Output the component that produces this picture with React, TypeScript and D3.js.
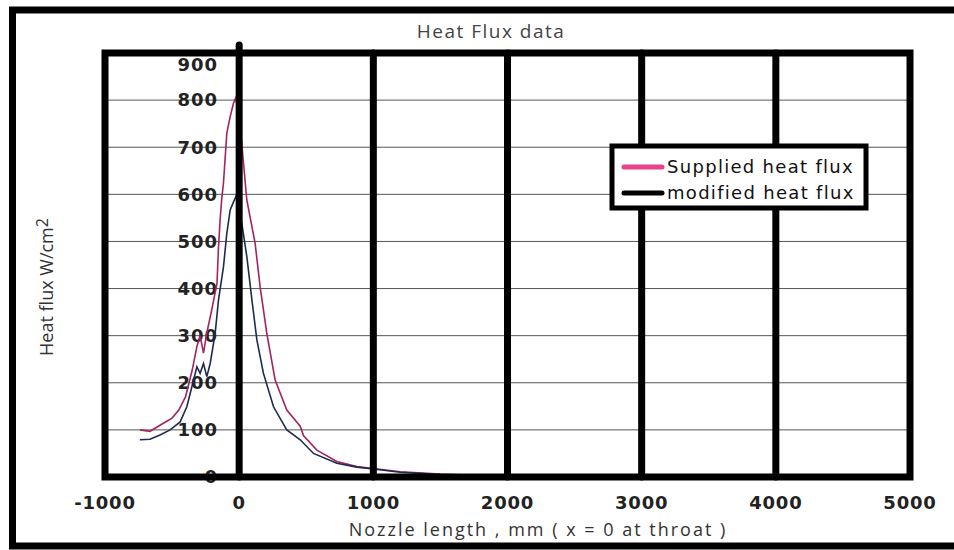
import * as d3 from 'd3';

// Nozzle position (mm, x = 0 at throat) and heat flux (W/cm2)
const suppliedX = [-740, -665, -565, -500, -450, -400, -350, -315, -291, -266, -241, -205, -165, -155, -142, -130, -117, -92, -67, -42, -25, -5, 20, 57, 119, 156, 206, 268, 355, 455, 465, 479, 579, 728, 877, 1000, 1200, 1500, 1800, 2100];
const suppliedY = [100, 97, 114, 125, 142, 170, 227, 277, 300, 263, 306, 354, 412, 482, 546, 590, 624, 730, 765, 794, 805, 770, 705, 588, 496, 404, 305, 206, 142, 108, 100, 88, 57, 33, 22, 18, 11, 6, 3, 2];

const modifiedX = [-740, -665, -590, -515, -440, -390, -352, -315, -291, -266, -241, -216, -179, -154, -117, -92, -67, -42, -20, 0, 20, 57, 95, 132, 181, 256, 355, 455, 554, 728, 877, 1000, 1200, 1500, 1800, 2100];
const modifiedY = [79, 80, 89, 100, 117, 149, 192, 234, 220, 241, 213, 241, 305, 376, 446, 517, 567, 584, 598, 560, 538, 468, 376, 291, 220, 149, 100, 79, 50, 29, 21, 17, 10, 5, 3, 2];

const xTicks = [-1000, 0, 1000, 2000, 3000, 4000, 5000];
const yTicks = [0, 100, 200, 300, 400, 500, 600, 700, 800, 900];

const legendItems = [
  { label: 'Supplied heat flux', color: '#e8428c' },
  { label: 'modified heat flux', color: '#000000' },
];

const W = 954;
const H = 550;
const plot = { left: 105, right: 910, top: 53, bottom: 477 };

export default function App() {
  const x = d3.scaleLinear().domain([-1000, 5000]).range([plot.left, plot.right]);
  const y = d3.scaleLinear().domain([0, 900]).range([plot.bottom, plot.top]);

  const line = d3.line<[number, number]>()
    .x((d) => x(d[0]))
    .y((d) => y(d[1]));

  const supplied = suppliedX.map((v, i) => [v, suppliedY[i]] as [number, number]);
  const modified = modifiedX.map((v, i) => [v, modifiedY[i]] as [number, number]);

  const tickFont = '"DejaVu Sans", Verdana, sans-serif';
  const titleFont = '"Open Sans", Calibri, sans-serif';

  return (
    <svg width={W} height={H} style={{ position: 'absolute', left: 0, top: 0, background: '#fff' }}>
      <rect x={0} y={0} width={W} height={H} fill="#fff" />

      {/* outer frame */}
      <rect x={12.5} y={10} width={1000} height={536} fill="none" stroke="#000" strokeWidth={7} />

      <text x={491} y={31} textAnchor="middle" dy="0.35em" fontFamily={titleFont} fontSize={19}
        letterSpacing={1.5} fill="#444">Heat Flux data</text>

      {/* horizontal grid */}
      {yTicks.map((t) => (
        <line key={'g' + t} x1={plot.left} x2={plot.right} y1={y(t)} y2={y(t)} stroke="#555" strokeWidth={1} />
      ))}

      {/* y tick labels, sitting inside the plot */}
      {yTicks.map((t) => (
        <text key={'yl' + t} x={218} y={Math.max(y(t), plot.top + 12)} dy="0.35em" textAnchor="end"
          fontFamily={tickFont} fontWeight="bold" fontSize={18} letterSpacing={1} fill="#222">{t}</text>
      ))}

      {/* series */}
      <path d={line(supplied) ?? ''} fill="none" stroke="#a3245e" strokeWidth={1.6} />
      <path d={line(modified) ?? ''} fill="none" stroke="#1c2b4f" strokeWidth={1.6} />

      {/* thick vertical grid */}
      {xTicks.slice(1, -1).map((t) => (
        <line key={'v' + t} x1={x(t)} x2={x(t)} y1={t === 0 ? plot.top - 8 : plot.top}
          y2={plot.bottom} stroke="#000" strokeWidth={7} strokeLinecap="round" />
      ))}

      {/* plot frame */}
      <rect x={plot.left} y={plot.top} width={plot.right - plot.left} height={plot.bottom - plot.top}
        fill="none" stroke="#000" strokeWidth={7} />

      {/* x tick labels */}
      {xTicks.map((t) => (
        <text key={'xl' + t} x={x(t)} y={503} dy="0.35em" textAnchor="middle"
          fontFamily={tickFont} fontWeight="bold" fontSize={18} letterSpacing={0.8} fill="#222">{t}</text>
      ))}

      <text x={538} y={530} dy="0.35em" textAnchor="middle" fontFamily={titleFont} fontSize={18}
        letterSpacing={2} fill="#333">Nozzle length , mm ( x = 0 at throat )</text>

      <text transform="translate(47,287) rotate(-90)" textAnchor="middle" dy="0.35em"
        fontFamily={titleFont} fontSize={18} fill="#333">
        Heat flux W/cm<tspan fontSize={16} dy={-5}>2</tspan>
      </text>

      {/* legend */}
      <g>
        <rect x={612} y={146} width={254} height={62} fill="#fff" stroke="#000" strokeWidth={5} />
        {legendItems.map((d, i) => (
          <g key={d.label} transform={`translate(0,${167 + i * 26})`}>
            <line x1={624} x2={662} y1={0} y2={0} stroke={d.color} strokeWidth={5} strokeLinecap="round" />
            <text x={667} y={0} dy="0.35em" fontFamily={tickFont} fontSize={18} letterSpacing={1.3}
              fill="#111">{d.label}</text>
          </g>
        ))}
      </g>
    </svg>
  );
}
